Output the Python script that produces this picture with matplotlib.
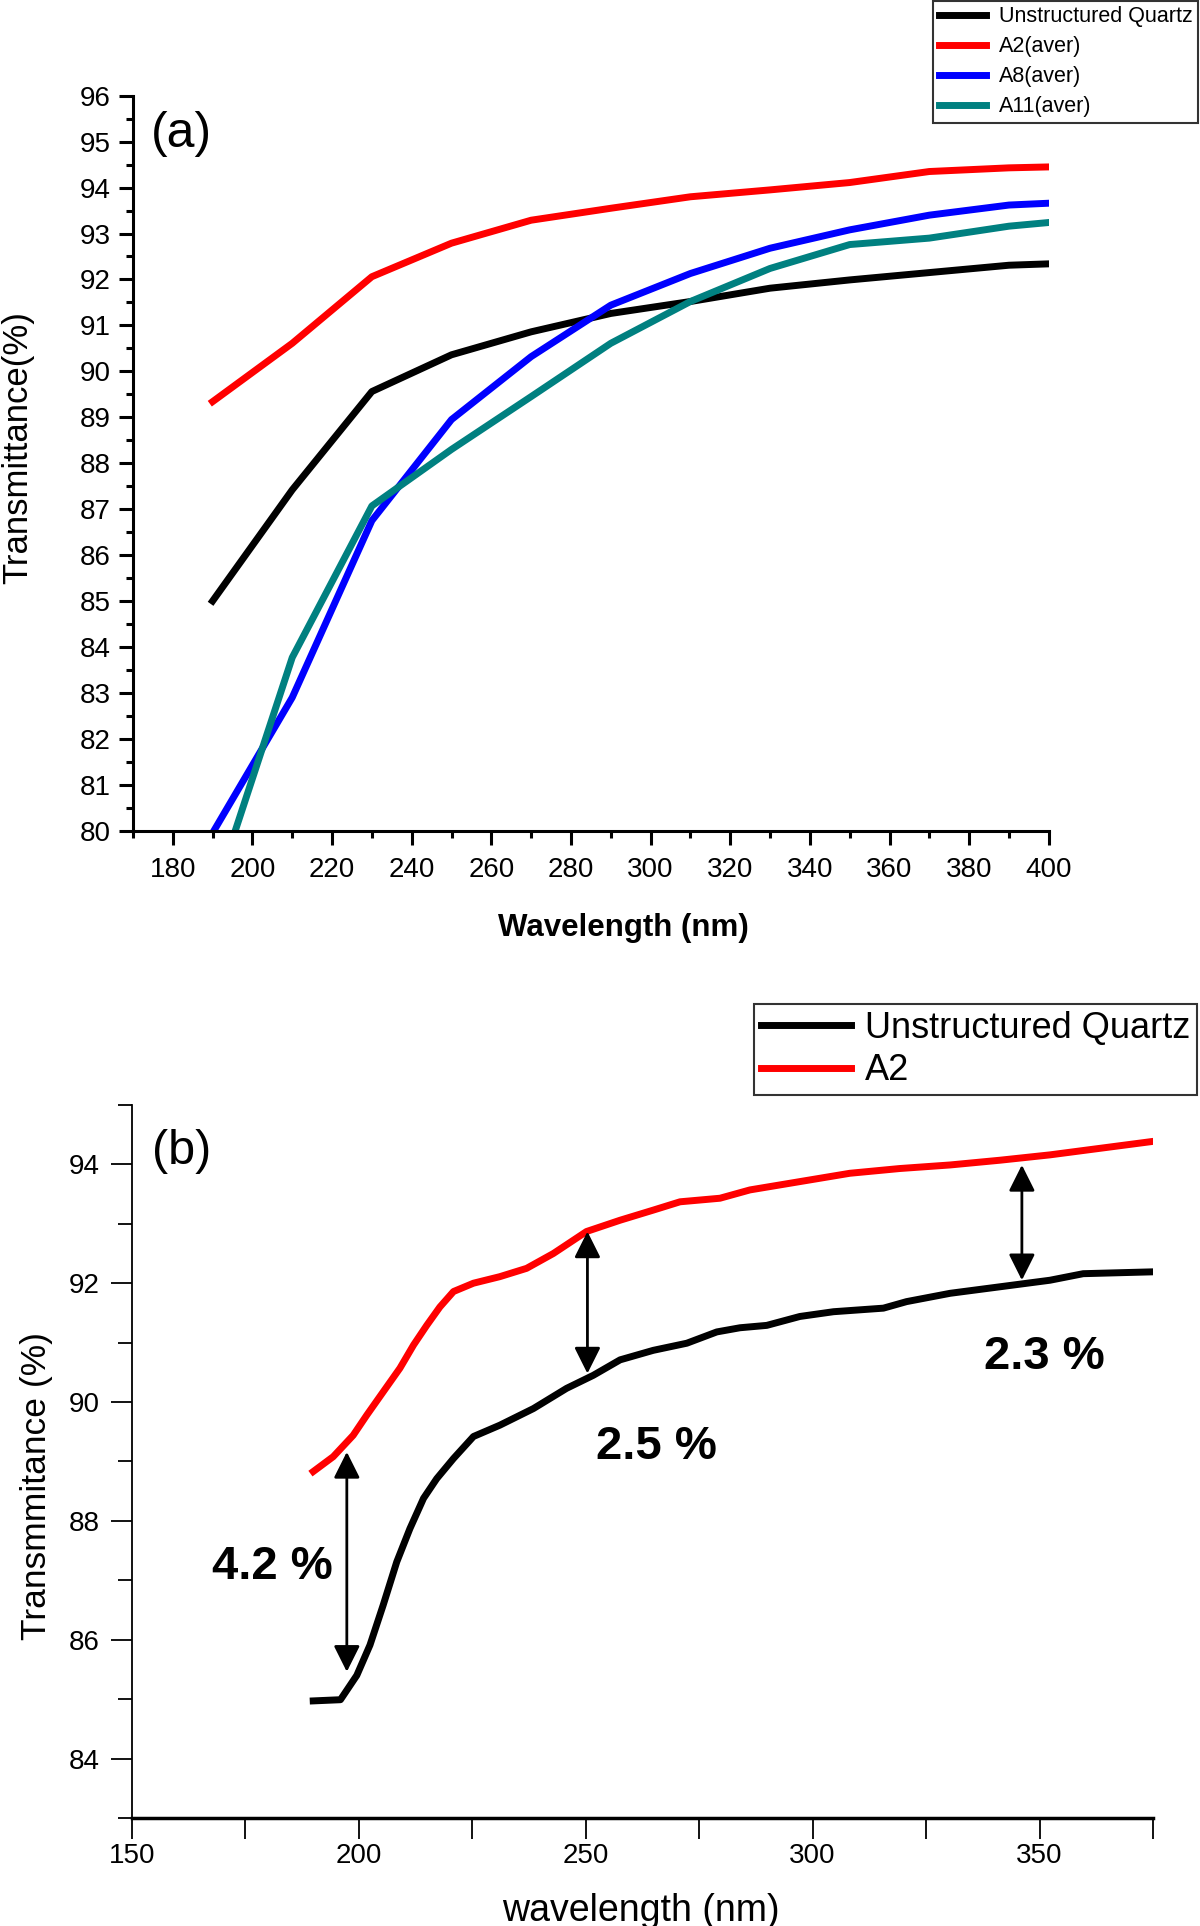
import matplotlib
matplotlib.use('Agg')
import matplotlib.pyplot as plt
from matplotlib.ticker import MultipleLocator, FuncFormatter

plt.rcParams['font.family'] = ['Liberation Sans', 'DejaVu Sans']

# (a) averaged transmittance
wl_a = [190, 210, 230, 250, 270, 290, 310, 330, 350, 370, 390, 400]
quartz_a = [85.0, 87.42, 89.56, 90.36, 90.86, 91.26, 91.52, 91.81, 91.99, 92.15, 92.31, 92.34]
a2_a = [89.34, 90.61, 92.06, 92.79, 93.29, 93.55, 93.80, 93.95, 94.11, 94.35, 94.43, 94.45]
a8_a = [79.95, 82.9, 86.75, 88.95, 90.32, 91.44, 92.13, 92.68, 93.08, 93.40, 93.62, 93.66]
a11_a = [78.5, 83.77, 87.07, 88.3, 89.45, 90.61, 91.52, 92.24, 92.76, 92.9, 93.16, 93.24]

# (b) measured spectra
wl_b_quartz = [190.0, 196.0, 199.6, 202.5, 205.4, 208.4, 211.3, 214.3, 217.2, 220.9, 225.3, 231.1,
               238.5, 245.8, 251.7, 257.6, 264.9, 272.3, 278.9, 284.0, 289.9, 297.2, 304.6, 315.6,
               320.7, 330.3, 341.3, 352.3, 359.6, 374.3]
t_b_quartz = [84.97, 84.99, 85.40, 85.91, 86.58, 87.31, 87.87, 88.38, 88.71, 89.05, 89.42, 89.61,
              89.89, 90.23, 90.45, 90.71, 90.87, 90.99, 91.18, 91.25, 91.29, 91.44, 91.52, 91.58,
              91.69, 91.83, 91.94, 92.05, 92.16, 92.19]
wl_b_a2 = [190.0, 194.4, 198.8, 201.8, 205.4, 209.1, 212.1, 215.0, 217.9, 220.9, 225.3, 231.1,
           237.0, 242.9, 250.2, 257.6, 264.9, 270.8, 279.6, 286.2, 297.2, 308.2, 319.2, 330.3,
           341.3, 352.3, 363.3, 374.3]
t_b_a2 = [88.83, 89.08, 89.44, 89.78, 90.17, 90.57, 90.96, 91.29, 91.60, 91.86, 92.00, 92.11,
          92.25, 92.50, 92.87, 93.06, 93.23, 93.37, 93.43, 93.57, 93.71, 93.85, 93.93, 93.99,
          94.07, 94.16, 94.27, 94.38]

# gap arrows and their labels
arrow_x = [197.4, 250.4, 346.1]
arrow_top = [89.16, 92.87, 93.99]
arrow_bottom = [85.46, 90.48, 92.05]
gap_labels = ['4.2 %', '2.5 %', '2.3 %']
gap_label_x = [181.0, 265.7, 351.0]
gap_label_y = [87.23, 89.24, 90.75]

fig = plt.figure(figsize=(12, 19.26), dpi=100)

# ---- panel (a)
ax1 = fig.add_axes([0.1108, 0.5687, 0.7632, 0.3816])
ax1.plot(wl_a, quartz_a, color='black', lw=5, label='Unstructured Quartz')
ax1.plot(wl_a, a2_a, color='#ff0000', lw=5, label='A2(aver)')
ax1.plot(wl_a, a8_a, color='#0000ff', lw=5, label='A8(aver)')
ax1.plot(wl_a, a11_a, color='#008080', lw=5, label='A11(aver)')
ax1.set_xlim(170, 400)
ax1.set_ylim(80, 96)
ax1.spines['top'].set_visible(False)
ax1.spines['right'].set_visible(False)
for s in ['left', 'bottom']:
    ax1.spines[s].set_linewidth(2.2)
ax1.xaxis.set_major_locator(MultipleLocator(20))
ax1.xaxis.set_minor_locator(MultipleLocator(10))
ax1.yaxis.set_major_locator(MultipleLocator(1))
ax1.yaxis.set_minor_locator(MultipleLocator(0.5))
ax1.tick_params(which='major', direction='out', length=10, width=2.2, labelsize=20)
ax1.tick_params(which='minor', direction='out', length=5, width=2.2)
ax1.tick_params(axis='x', which='major', pad=9)
ax1.tick_params(axis='y', which='major', pad=6)
ax1.set_xlabel('Wavelength (nm)', fontsize=22.5, fontweight='bold', va='center')
ax1.xaxis.set_label_coords(0.535, -0.132)
ax1.set_ylabel('Transmittance(%)', fontsize=25, va='center')
ax1.yaxis.set_label_coords(-0.1256, 0.521)
ax1.text(0.053, 0.948, '(a)', transform=ax1.transAxes, fontsize=36, ha='center', va='center')

h, l = ax1.get_legend_handles_labels()
leg1 = fig.legend(h, l, loc='upper right', bbox_to_anchor=(0.9985, 0.9995), fontsize=15.5,
                  frameon=True, fancybox=False, edgecolor='black', handlelength=2.2,
                  handletextpad=0.6, labelspacing=0.42, borderpad=0.25, borderaxespad=0)
leg1.get_frame().set_linewidth(1.5)

# ---- panel (b)
ax2 = fig.add_axes([0.1097, 0.0561, 0.8512, 0.3702])
ax2.plot(wl_b_quartz, t_b_quartz, color='black', lw=5, label='Unstructured Quartz')
ax2.plot(wl_b_a2, t_b_a2, color='#ff0000', lw=5, label='A2')
ax2.set_xlim(150, 375)
ax2.set_ylim(83, 95)
ax2.spines['top'].set_visible(False)
ax2.spines['right'].set_visible(False)
ax2.spines['left'].set_linewidth(1.3)
ax2.spines['bottom'].set_linewidth(2.5)
ax2.xaxis.set_major_locator(MultipleLocator(25))
ax2.xaxis.set_major_formatter(FuncFormatter(lambda v, p: '%d' % v if v % 50 == 0 else ''))
ax2.yaxis.set_major_locator(MultipleLocator(2))
ax2.yaxis.set_minor_locator(MultipleLocator(1))
ax2.tick_params(which='major', direction='out', length=15, width=1.3, labelsize=20)
ax2.tick_params(which='minor', direction='out', length=10, width=1.3)
ax2.tick_params(axis='x', which='major', pad=3)
ax2.tick_params(axis='y', which='major', pad=8)
for t in ax2.get_xticklabels() + ax2.get_yticklabels():
    t.set_family(['Liberation Sans Narrow', 'Liberation Sans'])
ax2.set_xlabel('wavelength (nm)', fontsize=27, va='center')
ax2.xaxis.set_label_coords(0.4987, -0.13)
ax2.set_ylabel('Transmmitance (%)', fontsize=25.5, va='center')
ax2.yaxis.set_label_coords(-0.093, 0.4656)
ax2.text(0.049, 0.935, '(b)', transform=ax2.transAxes, fontsize=35, ha='center', va='center')

for x, top, bot in zip(arrow_x, arrow_top, arrow_bottom):
    ax2.annotate('', xy=(x, top), xytext=(x, bot),
                 arrowprops=dict(arrowstyle='<|-|>,head_length=0.4,head_width=0.2',
                                 color='black', lw=2, mutation_scale=40,
                                 shrinkA=0, shrinkB=0))
for x, y, s in zip(gap_label_x, gap_label_y, gap_labels):
    ax2.text(x, y, s, fontsize=34, fontweight='bold', ha='center', va='center')

h, l = ax2.get_legend_handles_labels()
leg2 = fig.legend(h, l, loc='upper right', bbox_to_anchor=(0.9975, 0.4787), fontsize=26,
                  frameon=True, fancybox=False, edgecolor='black', handlelength=2.5,
                  handletextpad=0.4, labelspacing=0.22, borderpad=0.18, borderaxespad=0)
leg2.get_frame().set_linewidth(1.5)

fig.savefig('out.png', dpi=100)
